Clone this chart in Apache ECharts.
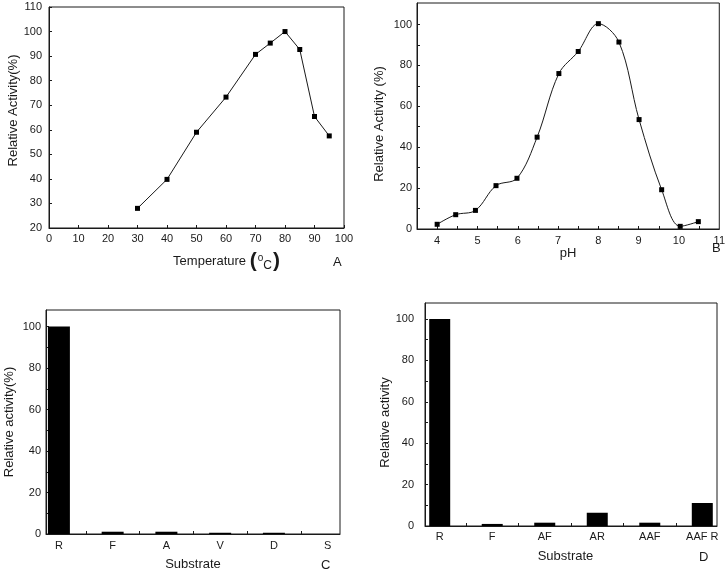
<!DOCTYPE html>
<html>
<head>
<meta charset="utf-8">
<script src="https://cdn.jsdelivr.net/npm/echarts@6/dist/echarts.min.js"></script>
<style>
html,body{margin:0;padding:0;background:#fff;}
#chart{width:728px;height:573px;}
</style>
</head>
<body>
<div id="chart"></div>
<script>
// Panel A: temperature
const tempC = [30, 40, 50, 60, 70, 75, 80, 85, 90, 95];
const tempActivity = [28, 39.8, 59, 73.3, 90.7, 95.3, 100, 92.7, 65.4, 57.5];
// Panel B: pH
const pHValues = [4, 4.46, 4.95, 5.46, 5.98, 6.48, 7.02, 7.5, 8, 8.51, 9.01, 9.57, 10.03, 10.48];
const pHActivity = [2.3, 7, 9.1, 21.2, 24.8, 44.9, 76, 86.8, 100.4, 91.4, 53.5, 19.2, 1.3, 3.6];
// Panel C: substrates
const substratesC = ['R', 'F', 'A', 'V', 'D', 'S'];
const activityC = [100, 1.1, 1.1, 0.6, 0.6, 0];
// Panel D: substrates
const substratesD = ['R', 'F', 'AF', 'AR', 'AAF', 'AAF R'];
const activityD = [100, 1, 1.6, 6.4, 1.6, 11.1];
// Tick labels
const pHTickLabels = [4, 5, 6, 7, 8, 9, 10, 11];
const pHMinorTicks = [4, 4.5, 5, 5.5, 6, 6.5, 7, 7.5, 8, 8.5, 9, 9.5, 10, 10.5];
const pctLabels = [0, 20, 40, 60, 80, 100];
const pctTicks = [0, 10, 20, 30, 40, 50, 60, 70, 80, 90, 100];
const catTicks = [0.5, 1.5, 2.5, 3.5, 4.5];

const FONT = 'Liberation Sans, Arial, sans-serif';
const INK = '#1a1a1a';

function baseAxis(extra) {
  return Object.assign({
    type: 'value',
    axisLine: { show: true, onZero: false, lineStyle: { color: INK, width: 1 } },
    axisTick: { show: true, inside: true, length: 3, lineStyle: { color: INK } },
    axisLabel: { color: INK, fontSize: 11, fontFamily: FONT },
    splitLine: { show: false },
    nameLocation: 'middle',
    nameTextStyle: { color: INK, fontSize: 13, fontFamily: FONT }
  }, extra);
}

const gridStyle = { show: true, borderColor: INK, borderWidth: 1, backgroundColor: 'transparent' };

const chart = echarts.init(document.getElementById('chart'), null, { renderer: 'canvas' });

const option = {
  backgroundColor: '#fff',
  animation: false,
  grid: [
    Object.assign({ left: 49, top: 7, width: 295, height: 221 }, gridStyle),
    Object.assign({ left: 417, top: 3, width: 304, height: 226 }, gridStyle),
    Object.assign({ left: 46, top: 310, width: 294, height: 224 }, gridStyle),
    Object.assign({ left: 425, top: 303, width: 292, height: 223 }, gridStyle)
  ],
  xAxis: [
    baseAxis({
      gridIndex: 0, min: 0, max: 100, interval: 10,
      axisLabel: { color: INK, fontSize: 11, fontFamily: FONT, margin: 5 },
      name: 'Temperature {p|(}{o|o}{c|C}{p|)}',
      nameGap: 23,
      nameTextStyle: {
        color: INK, fontSize: 13, fontFamily: FONT, padding: [0, 0, 0, 60],
        rich: {
          p: { fontSize: 21, fontWeight: 'bold', fontFamily: FONT, color: INK },
          o: { fontSize: 10, fontFamily: FONT, color: INK, verticalAlign: 'top', padding: [2, 0, 0, 1] },
          c: { fontSize: 12, fontFamily: FONT, color: INK, verticalAlign: 'bottom', padding: [0, 1, 0, 0] }
        }
      }
    }),
    baseAxis({
      gridIndex: 1, min: 3.5, max: 11,
      axisTick: { show: true, inside: true, length: 3, lineStyle: { color: INK }, customValues: pHMinorTicks },
      axisLabel: { color: INK, fontSize: 11, fontFamily: FONT, margin: 6, customValues: pHTickLabels },
      name: 'pH', nameGap: 11
    }),
    baseAxis({
      gridIndex: 2, min: -0.24, max: 5.23,
      axisTick: { show: true, inside: true, length: 3, lineStyle: { color: INK }, customValues: catTicks },
      axisLabel: {
        color: INK, fontSize: 11, fontFamily: FONT, margin: 6,
        customValues: substratesC.map((_, i) => i),
        formatter: v => substratesC[Math.round(v)]
      },
      name: 'Substrate', nameGap: 24
    }),
    baseAxis({
      gridIndex: 3, min: -0.28, max: 5.28,
      axisTick: { show: true, inside: true, length: 3, lineStyle: { color: INK }, customValues: catTicks },
      axisLabel: {
        color: INK, fontSize: 11, fontFamily: FONT, margin: 5,
        customValues: substratesD.map((_, i) => i),
        formatter: v => substratesD[Math.round(v)]
      },
      name: 'Substrate', nameGap: 24,
      nameTextStyle: { color: INK, fontSize: 13, fontFamily: FONT, padding: [0, 11, 0, 0] }
    })
  ],
  yAxis: [
    baseAxis({
      gridIndex: 0, min: 20, max: 110, interval: 10,
      axisLabel: { color: INK, fontSize: 11, fontFamily: FONT, margin: 7 },
      name: 'Relative Activity(%)', nameGap: 27,
      nameTextStyle: { color: INK, fontSize: 13, fontFamily: FONT, padding: [0, 0, 0, 14] }
    }),
    baseAxis({
      gridIndex: 1, min: 0, max: 110.5,
      axisTick: { show: true, inside: true, length: 3, lineStyle: { color: INK }, customValues: pctTicks },
      axisLabel: { color: INK, fontSize: 11, fontFamily: FONT, margin: 5, customValues: pctLabels },
      name: 'Relative Activity (%)', nameGap: 31,
      nameTextStyle: { color: INK, fontSize: 13, fontFamily: FONT, padding: [0, 16, 0, 0] }
    }),
    baseAxis({
      gridIndex: 2, min: 0, max: 108,
      axisTick: { show: true, inside: true, length: 3, lineStyle: { color: INK }, customValues: pctTicks },
      axisLabel: { color: INK, fontSize: 11, fontFamily: FONT, margin: 5, customValues: pctLabels },
      name: 'Relative activity(%)', nameGap: 30
    }),
    baseAxis({
      gridIndex: 3, min: 0, max: 107.7,
      axisTick: { show: true, inside: true, length: 3, lineStyle: { color: INK }, customValues: pctTicks },
      axisLabel: { color: INK, fontSize: 11, fontFamily: FONT, margin: 11, customValues: pctLabels },
      name: 'Relative activity', nameGap: 31,
      nameTextStyle: { color: INK, fontSize: 13, fontFamily: FONT, padding: [0, 16, 0, 0] }
    })
  ],
  series: [
    {
      type: 'line', xAxisIndex: 0, yAxisIndex: 0,
      data: tempC.map((t, i) => [t, tempActivity[i]]),
      symbol: 'rect', symbolSize: 5,
      lineStyle: { color: INK, width: 1 },
      itemStyle: { color: '#000' }
    },
    {
      type: 'line', xAxisIndex: 1, yAxisIndex: 1,
      data: pHValues.map((p, i) => [p, pHActivity[i]]),
      smooth: 0.35,
      symbol: 'rect', symbolSize: 5,
      lineStyle: { color: INK, width: 1 },
      itemStyle: { color: '#000' }
    },
    {
      type: 'bar', xAxisIndex: 2, yAxisIndex: 2,
      data: activityC.map((v, i) => [i, v]),
      barWidth: 22,
      itemStyle: { color: '#000' }
    },
    {
      type: 'bar', xAxisIndex: 3, yAxisIndex: 3,
      data: activityD.map((v, i) => [i, v]),
      barWidth: 21,
      itemStyle: { color: '#000' }
    }
  ],
  graphic: [
    { type: 'text', left: 333, top: 256, style: { text: 'A', fontSize: 13, fontFamily: FONT, fill: INK } },
    { type: 'text', left: 712, top: 242, style: { text: 'B', fontSize: 13, fontFamily: FONT, fill: INK } },
    { type: 'text', left: 321, top: 559, style: { text: 'C', fontSize: 13, fontFamily: FONT, fill: INK } },
    { type: 'text', left: 699, top: 551, style: { text: 'D', fontSize: 13, fontFamily: FONT, fill: INK } }
  ]
};

chart.setOption(option);
</script>
</body>
</html>
